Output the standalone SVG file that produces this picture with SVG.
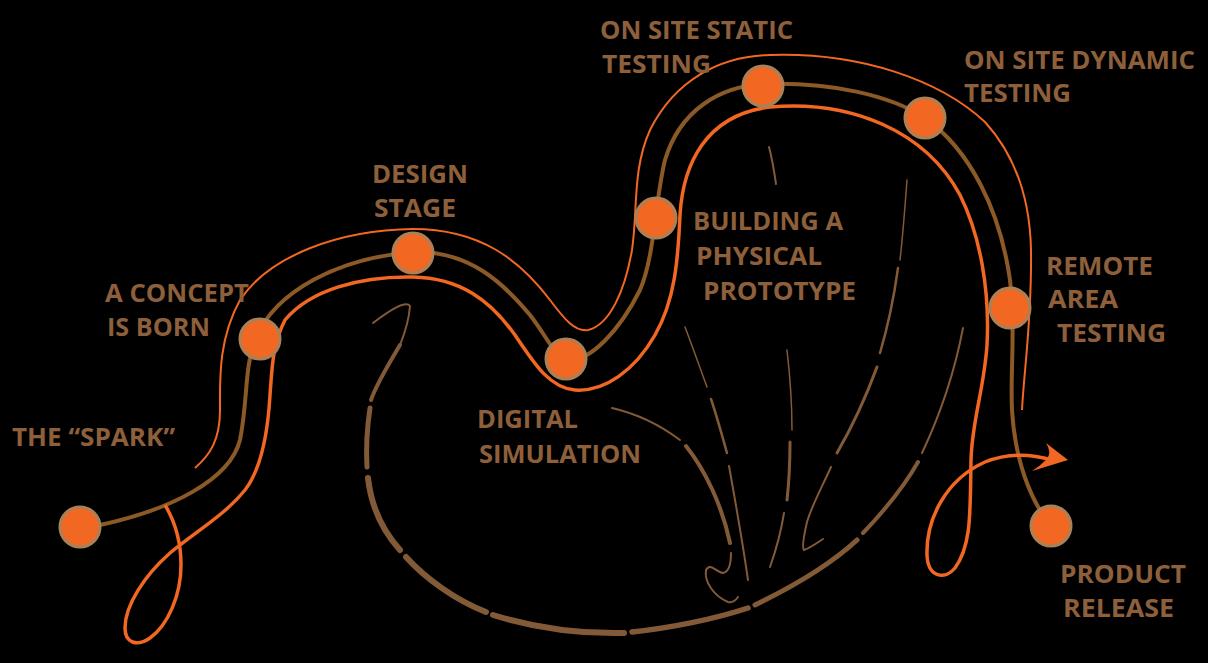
<svg xmlns="http://www.w3.org/2000/svg" width="1208" height="663" viewBox="0 0 1208 663">
<style>
.lbl{font-family:"Open Sans","Liberation Sans",sans-serif;font-weight:700;font-size:25px;fill:#8d5f3b}
.node{fill:#f26722;stroke:#a98158;stroke-width:3}
.mid{fill:none;stroke:#8b5a26;stroke-width:4}
.outer{fill:none;stroke:#f26722;stroke-width:2}
.inner{fill:none;stroke:#f26722;stroke-width:3.5}
.fan{fill:none;stroke:#835a38;stroke-linecap:round}
</style>
<rect width="1208" height="663" fill="#000"/>
<g id="fan">
<path class="fan" stroke-width="2" d="M373,323 C390,310 406,300 410,306 C409,320 404,335 400,345"/>
<path class="fan" stroke-width="4" d="M400,345 C388,365 376,385 371,400"/>
<path class="fan" stroke-width="5" d="M370,408 C367,428 366,450 367,467"/>
<path class="fan" stroke-width="6" d="M368,478 C371,505 382,530 400,550"/>
<path class="fan" stroke-width="6" d="M406,557 C425,578 455,600 486,612"/>
<path class="fan" stroke-width="6" d="M493,615 C535,628 580,634 624,633"/>
<path class="fan" stroke-width="5.5" d="M632,632 C670,628 715,619 748,608"/>
<path class="fan" stroke-width="5" d="M755,605 C790,588 830,565 857,540"/>
<path class="fan" stroke-width="4" d="M863,533 C885,510 905,485 918,462"/>
<path class="fan" stroke-width="2" d="M922,453 C940,415 955,370 963,328"/>
<path class="fan" stroke-width="2" d="M612,408 C638,414 660,425 680,440"/>
<path class="fan" stroke-width="4" d="M686,446 C705,470 722,505 730,543"/>
<path class="fan" stroke-width="2" d="M731,553 C731,565 728,572 723,573 C716,572 710,562 706,570 C704,582 714,596 728,602 C733,603 736,600 738,597"/>
<path class="fan" stroke-width="1.5" d="M685,327 C693,348 700,368 707,387"/>
<path class="fan" stroke-width="2.5" d="M711,399 C717,417 722,435 727,453"/>
<path class="fan" stroke-width="2" d="M729,466 C736,505 743,545 748,580"/>
<path class="fan" stroke-width="1.5" d="M787,350 C790,376 792,404 792,430"/>
<path class="fan" stroke-width="3" d="M790,442 C790,462 789,482 787,500"/>
<path class="fan" stroke-width="2" d="M784,513 C781,532 776,550 770,567"/>
<path class="fan" stroke-width="1.5" d="M907,180 C905,207 903,234 900,260"/>
<path class="fan" stroke-width="2.5" d="M898,268 C894,297 888,326 880,353"/>
<path class="fan" stroke-width="3" d="M877,367 C866,397 852,427 837,453"/>
<path class="fan" stroke-width="2" d="M831,467 C822,487 812,505 807,522 C804,535 802,548 804,550 C810,548 817,543 823,539"/>
<path class="fan" stroke-width="2" d="M769,147 C772,158 774,170 776,184"/>
</g>
<g id="connectors">
<path class="outer" d="M195,468 C210,455 220,440 220,410 C220,380 218,340 240,300 C270,255 340,230 413,229 C480,229 520,260 550,300 C565,320 575,332 588,330 C610,325 625,290 632,250 C638,210 632,170 650,130 C675,80 720,56 770,55 C860,52 940,80 985,122 C1015,155 1030,200 1031,250 C1032,320 1024,370 1022,410"/>
<path class="mid" d="M100,525 C170,510 230,480 240,440 C248,400 244,370 255,340 C275,290 340,258 413,252 C470,250 505,285 530,315 C548,338 555,358 568,360 C590,362 620,330 640,290 C655,255 655,200 665,160 C680,110 720,86 765,84 C830,82 890,95 925,118 C970,150 1000,210 1010,280 C1016,330 1010,370 1012,410 C1015,460 1030,500 1051,526"/>
<path class="inner" d="M165,505 C174,520 181,540 181,565 C181,595 168,625 150,638 C137,647 125,643 125,628 C125,605 145,575 170,553 C195,532 225,515 245,490 C262,468 268,430 270,395 C272,370 272,345 285,320 C310,290 360,276 413,277 C460,278 490,300 515,335 C535,365 550,388 575,390 C605,392 635,370 655,335 C675,300 678,260 680,215 C683,165 705,115 770,107 C850,100 925,130 960,195 C980,235 990,290 987,345 C984,390 972,420 971,460 C970,510 972,545 955,568 C945,580 928,578 927,555 C926,520 945,480 985,462 C1010,452 1035,455 1052,460"/>
<path fill="#f26722" d="M1068,460 L1046,443 Q1052,452 1047,459 Q1040,466 1032,471 Z"/>
</g>
<g id="spark"><circle class="node" cx="80" cy="527" r="20"/><text class="lbl" x="12" y="446" textLength="163" lengthAdjust="spacingAndGlyphs">THE “SPARK”</text></g>
<g id="concept"><circle class="node" cx="260" cy="339" r="20"/><text class="lbl" x="105" y="302" textLength="144" lengthAdjust="spacingAndGlyphs">A CONCEPT</text><text class="lbl" x="107" y="336" textLength="103" lengthAdjust="spacingAndGlyphs">IS BORN</text></g>
<g id="design"><circle class="node" cx="413" cy="253" r="20"/><text class="lbl" x="372" y="183" textLength="96" lengthAdjust="spacingAndGlyphs">DESIGN</text><text class="lbl" x="374" y="217" textLength="82" lengthAdjust="spacingAndGlyphs">STAGE</text></g>
<g id="digital"><circle class="node" cx="566" cy="359" r="20"/><text class="lbl" x="477" y="428" textLength="101" lengthAdjust="spacingAndGlyphs">DIGITAL</text><text class="lbl" x="479" y="463" textLength="162" lengthAdjust="spacingAndGlyphs">SIMULATION</text></g>
<g id="building"><circle class="node" cx="656" cy="218" r="20"/><text class="lbl" x="693" y="230" textLength="150" lengthAdjust="spacingAndGlyphs">BUILDING A</text><text class="lbl" x="696" y="265" textLength="126" lengthAdjust="spacingAndGlyphs">PHYSICAL</text><text class="lbl" x="703" y="300" textLength="153" lengthAdjust="spacingAndGlyphs">PROTOTYPE</text></g>
<g id="static"><circle class="node" cx="763" cy="86" r="20"/><text class="lbl" x="600" y="39" textLength="193" lengthAdjust="spacingAndGlyphs">ON SITE STATIC</text><text class="lbl" x="602" y="73" textLength="109" lengthAdjust="spacingAndGlyphs">TESTING</text></g>
<g id="dynamic"><circle class="node" cx="925" cy="118" r="20"/><text class="lbl" x="964" y="69" textLength="231" lengthAdjust="spacingAndGlyphs">ON SITE DYNAMIC</text><text class="lbl" x="964" y="102" textLength="107" lengthAdjust="spacingAndGlyphs">TESTING</text></g>
<g id="remote"><circle class="node" cx="1010" cy="308" r="20"/><text class="lbl" x="1046" y="275" textLength="107" lengthAdjust="spacingAndGlyphs">REMOTE</text><text class="lbl" x="1048" y="308" textLength="70" lengthAdjust="spacingAndGlyphs">AREA</text><text class="lbl" x="1057" y="342" textLength="109" lengthAdjust="spacingAndGlyphs">TESTING</text></g>
<g id="product"><circle class="node" cx="1051" cy="526" r="20"/><text class="lbl" x="1060" y="583" textLength="126" lengthAdjust="spacingAndGlyphs">PRODUCT</text><text class="lbl" x="1063" y="617" textLength="111" lengthAdjust="spacingAndGlyphs">RELEASE</text></g>
</svg>
